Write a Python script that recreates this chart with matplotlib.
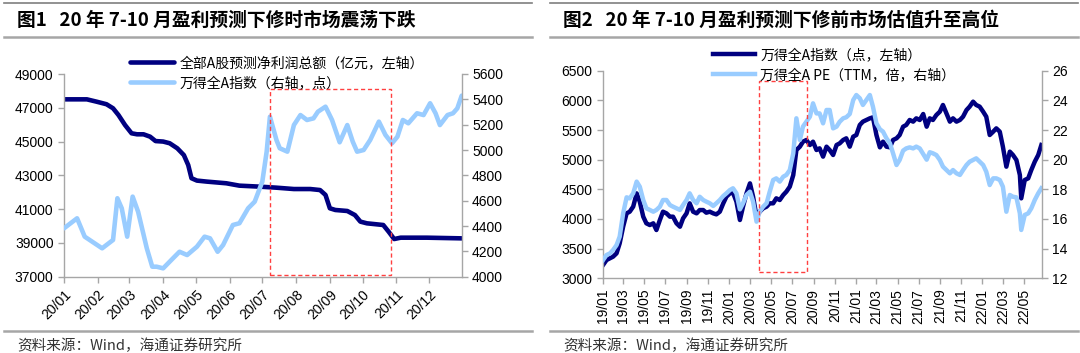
import matplotlib
matplotlib.use('Agg')
import matplotlib.pyplot as plt
import matplotlib.transforms as mtransforms
from matplotlib.patches import Rectangle
import pandas as pd

# ---------------- Left chart data (2020) ----------------
profit_dates = ['2020-01-01','2020-01-22','2020-01-31','2020-02-09','2020-02-15','2020-02-20',
                '2020-02-26','2020-03-03','2020-03-08','2020-03-14','2020-03-20','2020-03-25',
                '2020-04-01','2020-04-07','2020-04-14','2020-04-20','2020-04-24','2020-04-27',
                '2020-05-02','2020-05-11','2020-05-29','2020-06-10','2020-06-29','2020-07-14',
                '2020-07-30','2020-08-14','2020-08-23','2020-08-28','2020-09-01','2020-09-06',
                '2020-09-17','2020-09-24','2020-09-29','2020-10-05','2020-10-20','2020-10-25',
                '2020-10-30','2020-11-05','2020-11-29','2020-12-31']
profit_values = [47500,47500,47360,47210,46970,46570,45980,45490,45430,45430,45290,45030,
                 45000,44900,44600,44200,43610,42830,42690,42630,42530,42390,42330,42270,
                 42190,42190,42130,41840,41050,40950,40890,40650,40260,40160,40060,39660,
                 39230,39310,39310,39270]

wind20_dates = ['2020-01-01','2020-01-13','2020-01-20','2020-02-05','2020-02-15','2020-02-19',
                '2020-02-23','2020-02-28','2020-03-04','2020-03-09','2020-03-17','2020-03-22',
                '2020-03-26','2020-04-01','2020-04-10','2020-04-16','2020-04-23','2020-05-02',
                '2020-05-09','2020-05-14','2020-05-21','2020-05-26','2020-06-04','2020-06-10',
                '2020-06-18','2020-06-24','2020-07-01','2020-07-05','2020-07-08','2020-07-14',
                '2020-07-17','2020-07-24','2020-07-30','2020-08-05','2020-08-11','2020-08-17',
                '2020-08-21','2020-08-28','2020-09-03','2020-09-10','2020-09-17','2020-09-22',
                '2020-09-26','2020-10-02','2020-10-08','2020-10-16','2020-10-22','2020-10-28',
                '2020-11-02','2020-11-07','2020-11-12','2020-11-20','2020-11-26','2020-12-02',
                '2020-12-07','2020-12-11','2020-12-18','2020-12-23','2020-12-27','2020-12-31']
wind20_values = [4382,4461,4316,4224,4290,4619,4540,4316,4632,4513,4224,4079,
                 4079,4066,4145,4197,4171,4237,4316,4303,4197,4250,4408,4422,
                 4540,4592,4750,4987,5263,5079,5014,4987,5197,5276,5237,5250,
                 5302,5342,5237,5061,5197,5066,4987,5000,5079,5224,5119,5053,
                 5105,5237,5211,5290,5276,5369,5290,5197,5276,5290,5329,5429]

left_months = ['2020-%02d-01' % m for m in range(1, 13)]
left_labels = ['20/%02d' % m for m in range(1, 13)]

# ---------------- Right chart data (2019-2022) ----------------
r_dates = ['2019-01-02','2019-01-12','2019-01-22','2019-01-31','2019-02-10','2019-02-19',
           '2019-03-01','2019-03-11','2019-03-20','2019-03-30','2019-04-09','2019-04-18',
           '2019-04-28','2019-05-07','2019-05-17','2019-05-27','2019-06-05','2019-06-15',
           '2019-06-24','2019-07-04','2019-07-14','2019-07-23','2019-08-02','2019-08-12',
           '2019-08-21','2019-08-31','2019-09-09','2019-09-19','2019-09-29','2019-10-08',
           '2019-10-18','2019-10-27','2019-11-06','2019-11-16','2019-11-25','2019-12-05',
           '2019-12-15','2019-12-24','2020-01-03','2020-01-12','2020-01-22','2020-02-01',
           '2020-02-10','2020-02-20','2020-03-01','2020-03-10','2020-03-20','2020-03-29',
           '2020-04-08','2020-04-18','2020-04-27','2020-05-07','2020-05-16','2020-05-26',
           '2020-06-05','2020-06-14','2020-06-24','2020-07-04','2020-07-13','2020-07-23',
           '2020-08-01','2020-08-11','2020-08-21','2020-08-30','2020-09-09','2020-09-18',
           '2020-09-28','2020-10-08','2020-10-17','2020-10-27','2020-11-06','2020-11-15',
           '2020-11-25','2020-12-04','2020-12-14','2020-12-24','2021-01-02','2021-01-12',
           '2021-01-21','2021-01-31','2021-02-10','2021-02-19','2021-03-01','2021-03-11',
           '2021-03-20','2021-03-30','2021-04-09','2021-04-18','2021-04-28','2021-05-07',
           '2021-05-17','2021-05-26','2021-06-05','2021-06-15','2021-06-24','2021-07-04',
           '2021-07-14','2021-07-24','2021-08-02','2021-08-11','2021-08-21','2021-08-31',
           '2021-09-09','2021-09-19','2021-09-29','2021-10-08','2021-10-18','2021-10-28',
           '2021-11-06','2021-11-16','2021-11-25','2021-12-05','2021-12-14','2021-12-24',
           '2022-01-03','2022-01-12','2022-01-22','2022-02-01','2022-02-10','2022-02-20',
           '2022-03-01','2022-03-11','2022-03-21','2022-03-30','2022-04-09','2022-04-19',
           '2022-04-23','2022-05-03','2022-05-13','2022-05-22','2022-06-01','2022-06-11',
           '2022-06-20']
wind_index = [3224,3308,3337,3365,3421,3589,3870,4095,4123,4208,4432,4292,
              4039,3927,3898,3927,3814,3983,4123,4095,4039,4039,3927,3870,
              4011,4095,4264,4123,4095,4151,4151,4106,4123,4095,4078,4123,
              4264,4376,4432,4444,4292,3983,4208,4432,4601,4376,4039,4123,
              4180,4208,4264,4264,4348,4320,4404,4460,4545,4741,5163,5219,
              5303,5332,5247,5303,5163,5191,5051,5219,5163,5079,5247,5275,
              5332,5360,5219,5388,5416,5585,5641,5669,5697,5714,5416,5208,
              5303,5219,5208,5332,5360,5416,5556,5585,5669,5641,5697,5669,
              5770,5556,5697,5669,5753,5809,5922,5781,5641,5697,5641,5669,
              5725,5837,5894,5978,5922,5894,5809,5725,5416,5472,5528,5472,
              5219,4882,5135,5079,4994,4741,4348,4657,4685,4826,4966,5079,
              5247]
wind_pe = [13.23,13.57,13.68,13.91,14.24,14.81,16.38,17.46,17.39,17.73,18.52,18.18,
           17.28,16.72,16.61,16.49,16.61,16.83,17.28,17.28,16.94,16.83,16.72,16.61,
           16.94,17.28,17.73,17.28,17.06,17.50,17.28,17.17,17.06,16.88,17.06,17.28,
           17.55,17.73,17.95,18.07,17.73,16.65,17.06,17.62,17.84,17.17,15.82,16.49,
           16.83,17.06,17.84,18.63,18.74,18.52,18.85,18.97,19.30,20.43,22.79,21.33,
           22.23,22.56,22.90,23.80,23.12,23.12,22.45,23.35,23.35,22.11,22.23,22.56,
           22.79,22.86,23.08,24.02,24.36,24.14,23.69,24.02,24.36,23.57,22.45,22.05,
           21.89,21.44,21.10,20.43,19.64,19.98,20.61,20.76,20.83,20.76,20.88,20.76,
           20.38,20.00,20.50,20.43,20.31,19.98,19.53,19.30,19.08,19.30,19.08,18.97,
           19.30,19.64,19.86,19.98,20.09,19.86,19.64,19.19,18.29,18.74,18.74,18.63,
           18.18,16.49,17.62,17.50,17.46,16.38,15.26,16.27,16.38,16.72,17.28,17.73,
           18.07]

right_ticks = pd.date_range('2019-01-01', '2022-05-01', freq='2MS')
right_labels = [d.strftime('%y/%m') for d in right_ticks]

# ---------------- Styling ----------------
DARK = '#000080'
LIGHT = '#99CCFF'
RED = '#FF4040'
SPINE = '#A6A6A6'
NUM_FONT = ['Liberation Sans', 'Noto Sans CJK SC']
CJK_FONT = ['Noto Sans CJK SC', 'DejaVu Sans']
plt.rcParams['font.family'] = NUM_FONT

W, H = 1080, 353
fig = plt.figure(figsize=(W / 100, H / 100), dpi=100)


def fx(px):
    return px / W


def fy(py):
    return 1 - py / H


def style_axes(ax, ax2):
    for a in (ax, ax2):
        a.spines['top'].set_visible(False)
        for s in ('left', 'right', 'bottom'):
            a.spines[s].set_color(SPINE)
            a.spines[s].set_linewidth(1.0)
        a.tick_params(colors=SPINE, labelcolor='black', labelsize=10, length=4, width=1)
    ax.spines['right'].set_visible(False)
    ax2.spines['left'].set_visible(False)
    ax2.spines['bottom'].set_visible(False)


# ---------------- Left chart ----------------
axL = fig.add_axes([fx(64), fy(276.7), fx(461.7 - 64), (276.7 - 74) / H])
axL2 = axL.twinx()
style_axes(axL, axL2)
axL.plot(pd.to_datetime(profit_dates), profit_values, color=DARK, lw=3.3,
         solid_joinstyle='round', solid_capstyle='round',
         label='全部A股预测净利润总额（亿元，左轴）')
axL2.plot(pd.to_datetime(wind20_dates), wind20_values, color=LIGHT, lw=3.3,
          solid_joinstyle='round', solid_capstyle='round',
          label='万得全A指数（右轴，点）')
axL.set_xlim(pd.Timestamp('2020-01-01'), pd.Timestamp('2020-12-31'))
axL.set_ylim(37000, 49000)
axL.set_yticks(range(37000, 49001, 2000))
axL2.set_ylim(4000, 5600)
axL2.set_yticks(range(4000, 5601, 200))
axL.set_xticks(pd.to_datetime(left_months))
axL.set_xticklabels(left_labels, rotation=45, ha='right', rotation_mode='anchor')
trL = mtransforms.blended_transform_factory(axL.transData, axL.transAxes)
x0 = matplotlib.dates.date2num(pd.Timestamp('2020-07-08'))
x1 = matplotlib.dates.date2num(pd.Timestamp('2020-10-27'))
axL2.add_patch(Rectangle((x0, 0.008), x1 - x0, 0.918, transform=trL, fill=False,
                         ec=RED, lw=1.0, ls=(0, (3, 2)), zorder=5))
hL = axL.get_lines() + axL2.get_lines()
fig.legend(hL, [h.get_label() for h in hL], loc='upper left',
           bbox_to_anchor=(fx(123), fy(49)), frameon=False, borderpad=0,
           handlelength=3.2, handletextpad=0.4, labelspacing=0.45,
           prop={'family': CJK_FONT, 'size': 10})

# ---------------- Right chart ----------------
axR = fig.add_axes([fx(602.7), fy(278.3), fx(1041.7 - 602.7), (278.3 - 70.7) / H])
axR2 = axR.twinx()
style_axes(axR, axR2)
rd = pd.to_datetime(r_dates)
axR.plot(rd, wind_index, color=DARK, lw=3.2, solid_joinstyle='round',
         label='万得全A指数（点，左轴）')
axR2.plot(rd, wind_pe, color=LIGHT, lw=3.2, solid_joinstyle='round',
          label='万得全A PE（TTM，倍，右轴）')
axR.set_xlim(pd.Timestamp('2019-01-01'), pd.Timestamp('2022-06-21'))
axR.set_ylim(3000, 6500)
axR.set_yticks(range(3000, 6501, 500))
axR2.set_ylim(12, 26)
axR2.set_yticks(range(12, 27, 2))
axR.set_xticks(right_ticks)
axR.set_xticklabels(right_labels, rotation=90, ha='center', va='top')
trR = mtransforms.blended_transform_factory(axR.transData, axR.transAxes)
x0 = matplotlib.dates.date2num(pd.Timestamp('2020-03-27'))
x1 = matplotlib.dates.date2num(pd.Timestamp('2020-08-13'))
axR2.add_patch(Rectangle((x0, 0.029), x1 - x0, 0.923, transform=trR, fill=False,
                         ec=RED, lw=1.0, ls=(0, (3, 2)), zorder=5))
hR = axR.get_lines() + axR2.get_lines()
fig.legend(hR, [h.get_label() for h in hR], loc='upper left',
           bbox_to_anchor=(fx(706), fy(41)), frameon=False, borderpad=0,
           handlelength=3.0, handletextpad=0.4, labelspacing=0.45,
           prop={'family': CJK_FONT, 'size': 10})

# ---------------- Titles, rules, sources ----------------
for (xa, xb) in ((4, 532), (550, 1078)):
    fig.add_artist(plt.Line2D([fx(xa), fx(xb)], [fy(3.3), fy(3.3)], color='#7F7F7F', lw=1.2))
    fig.add_artist(plt.Line2D([fx(xa), fx(xb)], [fy(36.7), fy(36.7)], color='#A6A6A6', lw=1.8))
    fig.add_artist(plt.Line2D([fx(xa), fx(xb)], [fy(331), fy(331)], color='#A6A6A6', lw=1.8))

fig.text(fx(17), fy(20.5), '图1   20 年 7-10 月盈利预测下修时市场震荡下跌',
         family=CJK_FONT, weight='bold', size=13.5, va='center', ha='left')
fig.text(fx(563), fy(20.5), '图2   20 年 7-10 月盈利预测下修前市场估值升至高位',
         family=CJK_FONT, weight='bold', size=13.5, va='center', ha='left')
for xs in (17, 563):
    fig.text(fx(xs), fy(346), '资料来源：Wind，海通证券研究所', family=CJK_FONT,
             size=10.5, color='#333333', va='center', ha='left')

fig.savefig('out.png', dpi=100)
